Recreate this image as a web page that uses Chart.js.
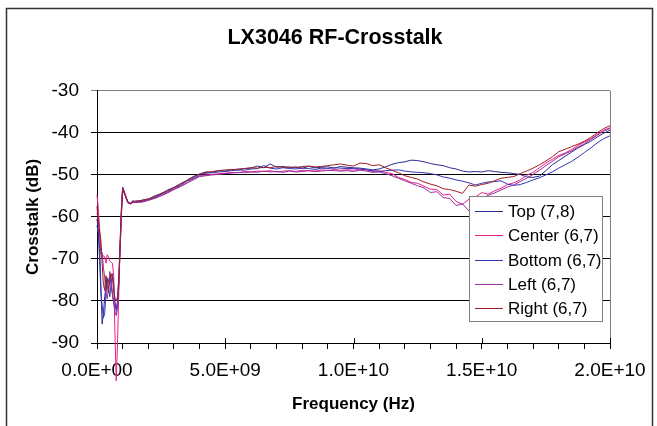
<!DOCTYPE html>
<html>
<head>
<meta charset="utf-8">
<script src="https://cdn.jsdelivr.net/npm/chart.js@4"></script>
<style>
  html, body { margin: 0; padding: 0; background: #fff; }
  #wrap { width: 657px; height: 426px; overflow: hidden; }
</style>
</head>
<body>
<div id="wrap"><canvas id="chart" width="657" height="426"></canvas></div>
<script>
// frequency points in GHz (converted to Hz when the chart is built)
const freqGHz = [
    0, 0.05, 0.1, 0.15, 0.2, 0.25, 0.3, 0.35, 0.4, 0.45,
    0.5, 0.55, 0.6, 0.65, 0.7, 0.75, 0.8, 0.85, 0.9, 0.95,
    1.0, 1.1, 1.2, 1.3, 1.4, 1.5, 1.75, 2.0, 2.25, 2.5,
    2.75, 3.0, 3.25, 3.5, 3.75, 4.0, 4.25, 4.5, 4.75, 5.0,
    5.25, 5.5, 5.75, 6.0, 6.25, 6.5, 6.75, 7.0, 7.25, 7.5,
    7.75, 8.0, 8.25, 8.5, 8.75, 9.0, 9.25, 9.5, 9.75, 10.0,
    10.25, 10.5, 10.75, 11.0, 11.25, 11.5, 11.75, 12.0, 12.25, 12.5,
    12.75, 13.0, 13.25, 13.5, 13.75, 14.0, 14.25, 14.5, 14.75, 15.0,
    15.25, 15.5, 15.75, 16.0, 16.25, 16.5, 16.75, 17.0, 17.25, 17.5,
    17.75, 18.0, 18.25, 18.5, 18.75, 19.0, 19.25, 19.5, 19.75, 20.0
];

const seriesNames = ["Top (7,8)", "Center (6,7)", "Bottom (6,7)", "Left (6,7)", "Right (6,7)"];
const seriesColors = ["#2b2b8f", "#ec1e8c", "#3434b8", "#972f9c", "#9c1f24"];

const topVals = [
    -60.5, -63.0, -67.5, -76.0, -85.5, -83.0, -79.0, -76.5, -74.5, -75.5,
    -74.3, -76.0, -78.5, -80.5, -81.5, -81.8, -80.0, -75.0, -67.0, -59.0,
    -52.9, -54.6, -56.4, -56.9, -56.1, -56.5, -56.0, -55.8, -55.0, -54.5,
    -53.6, -53.0, -52.1, -51.4, -50.5, -49.8, -49.3, -49.4, -49.0, -49.1,
    -48.7, -48.9, -48.5, -48.4, -47.9, -48.3, -47.4, -48.2, -48.0, -48.3,
    -48.1, -48.4, -48.0, -48.3, -48.2, -48.1, -48.4, -48.0, -48.2, -48.3,
    -48.4, -48.6, -48.8, -48.6, -48.1, -47.5, -47.1, -46.9, -46.5, -46.6,
    -46.9, -47.3, -47.6, -47.8, -48.3, -48.6, -49.1, -49.3, -49.2, -49.3,
    -49.0, -49.2, -49.4, -49.5, -49.7, -49.9, -50.5, -50.6, -50.3, -49.0,
    -47.6, -46.6, -45.6, -44.6, -43.6, -42.8, -42.0, -41.0, -40.1, -39.4
];

const centerVals = [
    -54.8, -58.0, -62.5, -67.0, -70.0, -69.2, -69.5, -71.0, -69.0, -69.5,
    -70.5, -70.8, -71.0, -74.0, -88.0, -99.0, -90.0, -78.0, -66.0, -58.0,
    -53.0, -54.7, -56.6, -56.8, -56.5, -56.6, -56.4, -56.1, -55.5, -54.9,
    -54.2, -53.4, -52.7, -51.9, -51.0, -50.3, -50.0, -49.9, -49.7, -49.6,
    -49.4, -49.5, -49.2, -49.3, -49.1, -49.2, -49.0, -49.3, -49.1, -49.0,
    -49.2, -48.9, -49.0, -49.1, -48.8, -49.0, -48.7, -48.9, -48.8, -48.9,
    -48.6, -48.8, -49.2, -49.0, -49.4, -49.7, -50.6, -51.1, -51.8, -52.0,
    -52.7, -53.4, -53.5, -54.8, -54.6, -56.3, -57.0, -55.8, -55.3, -54.2,
    -54.6, -53.8, -53.2, -52.3, -51.9, -51.2, -50.1, -49.4, -48.3, -47.2,
    -46.3, -45.4, -44.8, -44.0, -43.0, -42.2, -41.4, -40.4, -39.4, -38.8
];

const bottomVals = [
    -62.0, -64.0, -70.0, -78.0, -81.0, -84.0, -83.0, -78.0, -75.0, -77.0,
    -79.0, -76.0, -73.5, -76.0, -80.0, -82.5, -81.0, -76.5, -68.0, -60.0,
    -53.1, -54.9, -56.6, -56.7, -56.4, -56.3, -56.3, -55.9, -55.4, -54.6,
    -54.0, -53.1, -52.5, -51.5, -50.8, -50.1, -49.6, -49.5, -49.3, -49.2,
    -49.0, -48.8, -48.9, -48.6, -48.5, -47.8, -48.4, -48.6, -48.3, -48.5,
    -48.6, -48.4, -48.5, -48.7, -48.4, -48.5, -48.3, -48.4, -48.5, -48.5,
    -48.6, -48.8, -49.0, -49.2, -49.0, -48.9, -48.8, -49.1, -49.3, -49.4,
    -49.5, -49.7, -50.0, -50.5, -50.8, -51.2, -51.5, -51.9, -52.4, -52.0,
    -51.7, -51.6, -51.4, -52.2, -52.5, -52.3, -51.8, -51.2, -50.7, -50.0,
    -49.3, -48.4, -47.6, -46.8, -45.8, -44.7, -43.6, -42.4, -41.4, -40.7
];

const leftVals = [
    -59.0, -60.5, -64.5, -69.0, -68.5, -72.0, -74.5, -78.0, -79.5, -76.5,
    -73.0, -75.0, -78.0, -80.5, -82.5, -83.5, -81.5, -75.5, -67.5, -59.5,
    -53.3, -54.9, -56.7, -56.9, -56.6, -56.5, -56.5, -56.0, -55.6, -55.0,
    -54.3, -53.5, -52.8, -52.0, -51.2, -50.4, -50.2, -50.0, -49.9, -49.7,
    -49.6, -49.4, -49.5, -49.3, -49.4, -49.1, -49.3, -49.2, -49.4, -49.1,
    -49.3, -49.2, -49.0, -49.2, -49.1, -48.9, -49.0, -49.1, -49.0, -49.2,
    -48.9, -49.1, -49.4, -49.3, -49.7, -50.2, -50.8, -51.4, -52.0, -52.6,
    -53.1, -54.2, -54.0, -55.4, -55.6, -57.3, -56.9, -58.6, -56.6, -55.5,
    -54.9, -54.3, -53.6, -52.9, -52.4, -51.6, -50.8, -49.9, -48.9, -47.8,
    -46.8, -45.7, -45.0, -44.3, -43.4, -42.6, -41.6, -40.6, -39.6, -39.0
];

const rightVals = [
    -57.5, -61.0, -63.5, -65.5, -71.0, -76.0, -77.5, -74.0, -76.5, -78.0,
    -75.0, -73.5, -74.5, -77.5, -79.5, -80.0, -79.0, -74.0, -66.5, -58.5,
    -53.5, -55.0, -56.3, -56.9, -56.4, -56.2, -56.1, -55.7, -55.2, -54.4,
    -53.8, -53.0, -52.2, -51.3, -50.4, -49.8, -49.4, -49.2, -49.0, -48.8,
    -48.8, -48.6, -48.5, -48.3, -48.4, -48.2, -48.3, -48.0, -48.2, -48.1,
    -48.3, -48.0, -47.9, -48.1, -48.0, -47.8, -47.6, -47.4, -47.7, -47.9,
    -47.2, -47.3, -47.8, -47.6, -48.3, -48.9, -49.5, -50.2, -50.6, -51.0,
    -51.7, -52.2, -52.6, -53.3, -53.5, -53.9, -54.4, -52.4, -52.7, -52.3,
    -52.0, -51.4, -50.8, -50.6, -50.4, -49.7, -49.1, -48.4, -47.6, -46.7,
    -45.7, -44.5, -43.9, -43.3, -42.7, -42.0, -41.1, -40.0, -39.0, -38.3
];

const allVals = [topVals, centerVals, bottomVals, leftVals, rightVals];

const FONT = '"Liberation Sans", Arial, sans-serif';

// 5.0E+09 style labels
function sci(v) {
    if (v === 0) return "0.0E+00";
    const e = Math.floor(Math.log10(Math.abs(v)));
    const m = v / Math.pow(10, e);
    return m.toFixed(1) + "E" + (e < 0 ? "-" : "+") + String(Math.abs(e)).padStart(2, "0");
}

// white page, outer frame and grey plot-area edge on the right
const frame = {
    id: "frame",
    beforeDraw(chart) {
        const ctx = chart.ctx;
        ctx.save();
        ctx.fillStyle = "#fff";
        ctx.fillRect(0, 0, chart.width, chart.height);
        ctx.restore();
    },
    afterDraw(chart) {
        const ctx = chart.ctx;
        const a = chart.chartArea;
        ctx.save();
        ctx.strokeStyle = "#808080";
        ctx.lineWidth = 1;
        ctx.beginPath();
        ctx.moveTo(Math.round(a.right) + 0.5, a.top);
        ctx.lineTo(Math.round(a.right) + 0.5, a.bottom);
        ctx.stroke();

        // major ticks on the x axis cross the axis line
        const xs = chart.scales.x;
        ctx.strokeStyle = "#000";
        xs.ticks.forEach(t => {
            if (t.value > 0 && Math.abs(t.value % 5e9) < 1) {
                const px = Math.round(xs.getPixelForValue(t.value)) + 0.5;
                ctx.beginPath();
                ctx.moveTo(px, a.bottom - 5);
                ctx.lineTo(px, a.bottom);
                ctx.stroke();
            }
        });

        ctx.strokeStyle = "#333";
        ctx.lineWidth = 1.5;
        ctx.strokeRect(6.5, 8.5, 646, 440);
        ctx.restore();
    }
};

// boxed legend sitting inside the plot
const legendBox = {
    id: "legendBox",
    afterDraw(chart) {
        const ctx = chart.ctx;
        const x = 469, y = 196, w = 133, h = 125, rowH = 24.3;
        ctx.save();
        ctx.fillStyle = "#fff";
        ctx.fillRect(x, y, w, h);
        ctx.strokeStyle = "#808080";
        ctx.lineWidth = 1;
        ctx.strokeRect(x + 0.5, y + 0.5, w, h);
        ctx.font = "17px " + FONT;
        ctx.textBaseline = "middle";
        ctx.textAlign = "left";
        chart.data.datasets.forEach((ds, i) => {
            const cy = Math.round(y + 15 + i * rowH);
            ctx.strokeStyle = ds.borderColor;
            ctx.beginPath();
            ctx.moveTo(x + 6, cy + 0.5);
            ctx.lineTo(x + 34, cy + 0.5);
            ctx.stroke();
            ctx.fillStyle = "#000";
            ctx.fillText(ds.label, x + 39, cy + 1);
        });
        ctx.restore();
    }
};

const datasets = seriesNames.map((name, s) => ({
    label: name,
    data: freqGHz.map((f, i) => ({ x: f * 1e9, y: allVals[s][i] })),
    borderColor: seriesColors[s],
    backgroundColor: seriesColors[s],
    borderWidth: 1,
    pointRadius: 0,
    tension: 0,
    fill: false,
    clip: false,
    order: seriesNames.length - s
}));

new Chart(document.getElementById("chart"), {
    type: "line",
    data: { datasets: datasets },
    options: {
        responsive: false,
        animation: false,
        devicePixelRatio: 1,
        layout: { padding: { left: 13, right: 0, top: 0, bottom: 7 } },
        plugins: {
            legend: { display: false },
            tooltip: { enabled: false },
            title: {
                display: true,
                text: "LX3046 RF-Crosstalk",
                color: "#000",
                font: { family: FONT, size: 21.5, weight: "bold" },
                padding: { top: 25, bottom: 40 }
            }
        },
        scales: {
            x: {
                type: "linear",
                min: 0,
                max: 2e10,
                afterFit: s => { s.height = 76; },
                grid: { drawOnChartArea: false, drawTicks: true, tickLength: 6, color: "#000" },
                border: { display: true, color: "#000", width: 1 },
                ticks: {
                    stepSize: 1e9,
                    autoSkip: false,
                    maxRotation: 0,
                    padding: 10,
                    color: "#000",
                    font: { family: FONT, size: 19 },
                    callback: v => (Math.abs(v % 5e9) < 1 ? sci(v) : "")
                },
                title: {
                    display: true,
                    text: "Frequency (Hz)",
                    color: "#000",
                    font: { family: FONT, size: 17, weight: "bold" }
                }
            },
            y: {
                min: -90,
                max: -30,
                afterFit: s => { s.width = 84; },
                grid: {
                    drawTicks: true,
                    tickLength: 6,
                    color: ctx => (ctx.tick && ctx.tick.value === -30 ? "#808080" : "#000")
                },
                border: { display: true, color: "#000", width: 1 },
                ticks: {
                    stepSize: 10,
                    padding: 12,
                    color: "#000",
                    font: { family: FONT, size: 19 }
                },
                title: {
                    display: true,
                    text: "Crosstalk (dB)",
                    color: "#000",
                    padding: { top: 10, bottom: 4 },
                    font: { family: FONT, size: 17, weight: "bold" }
                }
            },
            // empty right-hand strip so the title centres on the whole frame
            yRight: {
                position: "right",
                display: true,
                afterFit: s => { s.width = 47; },
                grid: { display: false },
                border: { display: false },
                ticks: { display: false }
            }
        }
    },
    plugins: [frame, legendBox]
});
</script>
</body>
</html>
